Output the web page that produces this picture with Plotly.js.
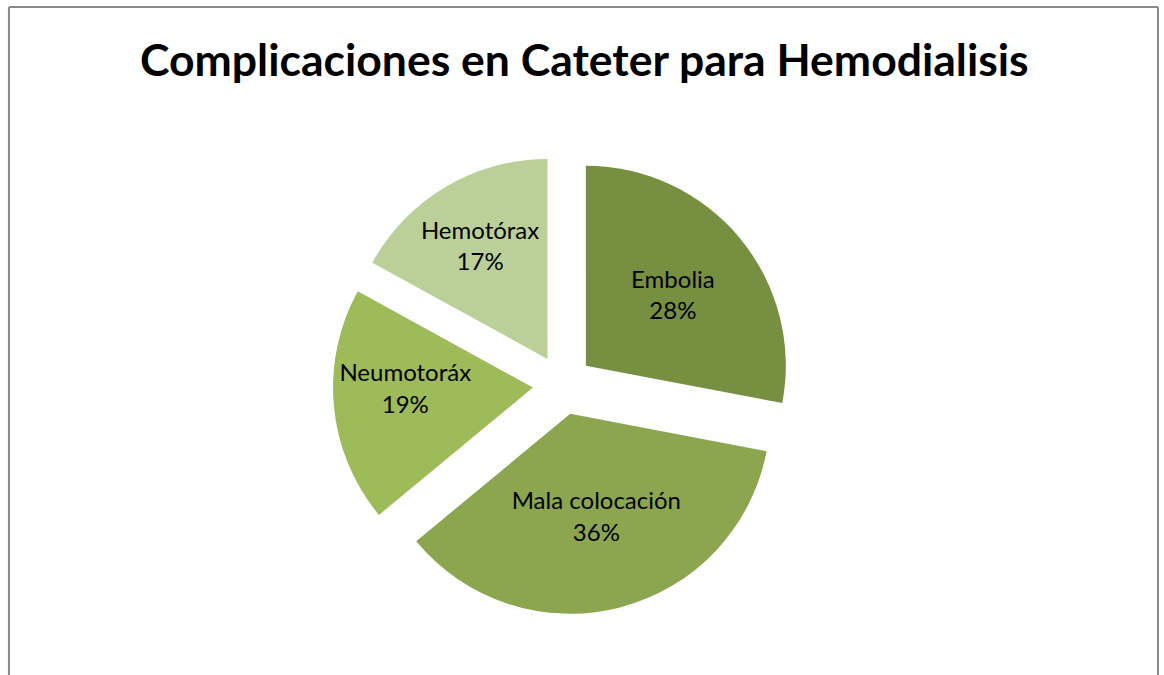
<!DOCTYPE html>
<html>
<head>
<meta charset="utf-8">
<script src="https://cdn.plot.ly/plotly-3.0.1.min.js"></script>
<style>
  body { margin: 0; background: #fff; }
  #grafico { width: 1164px; height: 675px; }
</style>
</head>
<body>
<div id="grafico"></div>
<script>
// Datos
let complicaciones = ['Embolia', 'Mala colocación', 'Neumotoráx', 'Hemotórax'];
let porcentajes = [28, 36, 19, 17];
let colores = ['#768F41', '#8BA64F', '#9DBB59', '#BBD098'];
let separacion = [0.15, 0.15, 0.15, 0.15];

var trazaPie = {
    type: 'pie',
    labels: complicaciones,
    values: porcentajes,
    sort: false,
    direction: 'clockwise',
    rotation: 0,
    pull: separacion,
    marker: {
        colors: colores,
        line: { width: 0 }
    },
    texttemplate: '%{label}<br>%{percent:.0%}',
    textposition: 'inside',
    insidetextorientation: 'horizontal',
    textfont: { family: 'Lato, "Open Sans", sans-serif', size: 24, color: '#000' },
    hoverinfo: 'label+percent',
    showlegend: false,
    domain: { x: [0.286, 0.681], y: [0.089, 0.771] }
}

var layoutPie = {
    width: 1164,
    height: 675,
    margin: { l: 0, r: 0, t: 0, b: 0 },
    paper_bgcolor: '#fff',
    title: {
        text: '<b>Complicaciones en Cateter para Hemodialisis</b>',
        font: { family: 'Lato, "Open Sans", sans-serif', size: 44.5, color: '#000' },
        x: 0.502,
        xanchor: 'center',
        y: 0.911,
        yanchor: 'middle',
        yref: 'container'
    },
    // marco gris del area del grafico
    shapes: [
        { type: 'line', xref: 'paper', yref: 'paper', x0: 0.0077, x1: 0.0077, y0: -0.1, y1: 0.9896, line: { color: '#8a8a8a', width: 2 } },
        { type: 'line', xref: 'paper', yref: 'paper', x0: 0.0077, x1: 0.9948, y0: 0.9896, y1: 0.9896, line: { color: '#8a8a8a', width: 2 } },
        { type: 'line', xref: 'paper', yref: 'paper', x0: 0.9948, x1: 0.9948, y0: -0.1, y1: 0.9896, line: { color: '#8a8a8a', width: 2 } }
    ]
}

Plotly.newPlot('grafico', [trazaPie], layoutPie, { displayModeBar: false });
</script>
</body>
</html>
